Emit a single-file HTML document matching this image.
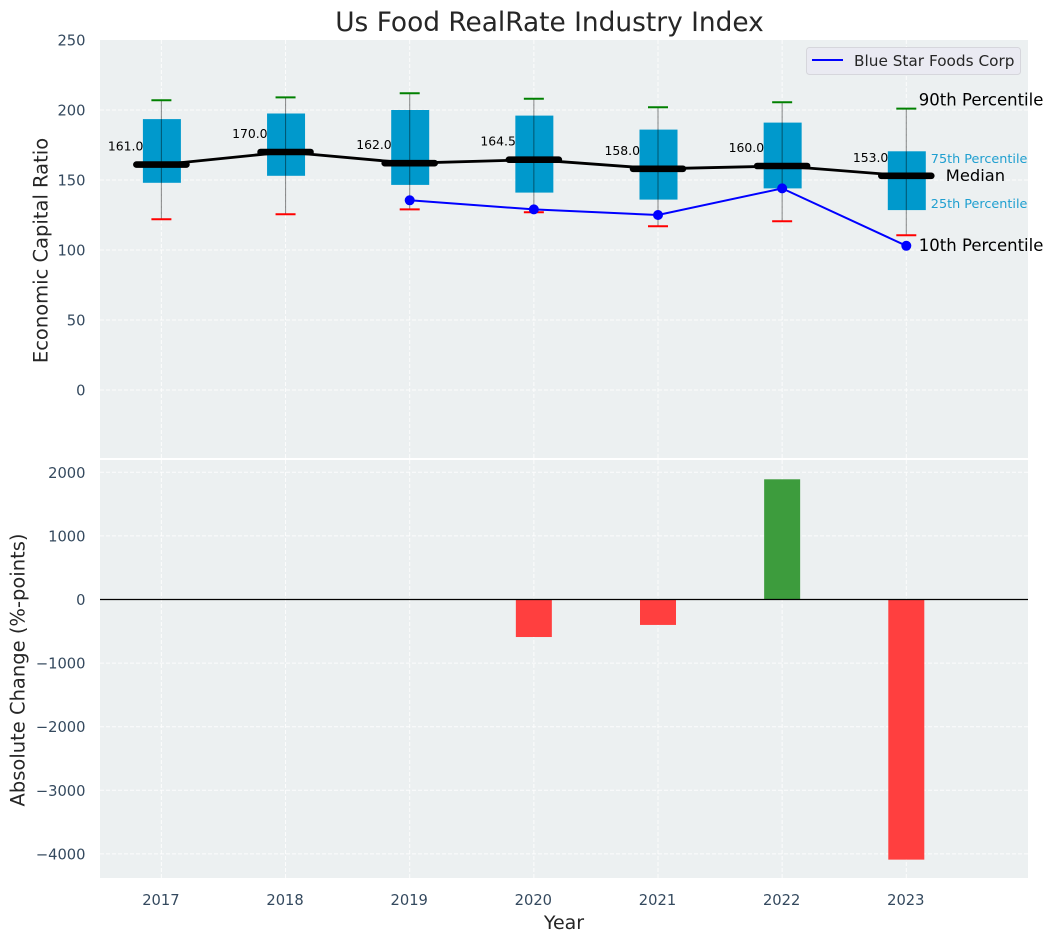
<!DOCTYPE html>
<html>
<head>
<meta charset="utf-8">
<title>Us Food RealRate Industry Index</title>
<style>
html,body{margin:0;padding:0;background:#fff;width:1054px;height:942px;overflow:hidden}
svg{display:block;font-family:"DejaVu Sans","Liberation Sans",sans-serif}
</style>
</head>
<body>
<svg id="chart" xmlns="http://www.w3.org/2000/svg" width="1054" height="942" viewBox="0 0 1054 942">
  <rect x="100" y="40" width="928" height="418" fill="#ecf0f1"/>
  <rect x="100" y="460" width="928" height="418" fill="#ecf0f1"/>
  <g id="grid"></g>
  <g id="bars"></g>
  <g id="boxes"></g>
  <g id="lines"></g>
  <g id="labels"></g>
  <g id="ticks"></g>
  <text x="549.5" y="31" text-anchor="middle" font-size="26.4" fill="#262626">Us Food RealRate Industry Index</text>
  <text transform="translate(47.5,250.5) rotate(-90)" text-anchor="middle" font-size="19.5" fill="#262626">Economic Capital Ratio</text>
  <text transform="translate(24.5,670) rotate(-90)" text-anchor="middle" font-size="19.5" fill="#262626">Absolute Change (%-points)</text>
  <text x="564" y="929" text-anchor="middle" font-size="19" fill="#262626">Year</text>
  <g>
    <rect x="806.5" y="47.5" width="214" height="27" rx="3" fill="#eaeaf2" stroke="#d6d6dc" stroke-width="1"/>
    <line x1="812" y1="60" x2="843" y2="60" stroke="#0000ff" stroke-width="2"/>
    <text x="854" y="66" font-size="15.3" fill="#262626">Blue Star Foods Corp</text>
  </g>
</svg>
<script>
const years = [2017, 2018, 2019, 2020, 2021, 2022, 2023];
const p10 = [122, 125.5, 129, 127, 117, 120.5, 110.5];
const p25 = [148, 153, 146.5, 141, 136, 144, 128.5];
const medians = [161, 170, 162, 164.5, 158, 160, 153];
const medianLabels = ["161.0", "170.0", "162.0", "164.5", "158.0", "160.0", "153.0"];
const p75 = [193.5, 197.5, 200, 196, 186, 191, 170.5];
const p90 = [207, 209, 212, 208, 202, 205.5, 201];
const companyValues = [null, null, 135.5, 129, 125, 144, 103];
const changeValues = [null, null, null, -590, -400, 1890, -4090];
const topTicks = [0, 50, 100, 150, 200, 250];
const bottomTicks = [-4000, -3000, -2000, -1000, 0, 1000, 2000];

const NS = "http://www.w3.org/2000/svg";
const xScale = v => 161.4 + (v - 2017) * 124.15;
const yTop = v => 390 - v * 1.4;
const yBottom = v => 599.5 - v * 0.0636;
const minus = v => String(v).replace("-", "\u2212");

function make(parent, tag, attrs, text) {
  const el = document.createElementNS(NS, tag);
  for (const k in attrs) el.setAttribute(k, attrs[k]);
  if (text !== undefined) el.textContent = text;
  document.getElementById(parent).appendChild(el);
  return el;
}

/* grid */
years.forEach(yr => {
  [[40, 458], [460, 878]].forEach(r => {
    const g = make("grid", "line", {x1: xScale(yr), x2: xScale(yr), y1: r[0], y2: r[1], stroke: "#fff", "stroke-width": 1, "stroke-dasharray": "4 2", opacity: 0.85});
    
    
  });
  const t = make("ticks", "text", {x: xScale(yr) - 0.5, y: 905, "text-anchor": "middle", "font-size": 14.7, fill: "#34495e"}, yr);
  
  
});
topTicks.forEach(v => {
  if (v < 250) {
    const g = make("grid", "line", {x1: 100, x2: 1028, y1: yTop(v), y2: yTop(v), stroke: "#fff", "stroke-width": 1, "stroke-dasharray": "4 2", opacity: 0.85});
    
    
  }
  const t = make("ticks", "text", {x: 85.5, y: yTop(v) + 5.5, "text-anchor": "end", "font-size": 14.7, fill: "#34495e"}, minus(v));
  
  
});
bottomTicks.forEach(v => {
  const g = make("grid", "line", {x1: 100, x2: 1028, y1: yBottom(v), y2: yBottom(v), stroke: "#fff", "stroke-width": 1, "stroke-dasharray": "4 2", opacity: 0.85});
  
  
  const t = make("ticks", "text", {x: 85.5, y: yBottom(v) + 5.5, "text-anchor": "end", "font-size": 14.7, fill: "#34495e"}, minus(v));
  
  
});

/* bars */
years.forEach((yr, i) => {
  const v = changeValues[i];
  if (v === null) return;
  const y0 = yBottom(0), y1 = yBottom(v);
  const b = make("bars", "rect", {x: xScale(yr) - 18, width: 36, y: Math.min(y0, y1), height: Math.abs(y1 - y0), fill: v >= 0 ? "#3d9c3d" : "#ff3f3f"});
  
  
});
const zero = make("bars", "line", {x1: 100, x2: 1028, y1: yBottom(0), y2: yBottom(0), stroke: "#000", "stroke-width": 1.2});



/* boxes and whiskers */
years.forEach((yr, i) => {
  const x = xScale(yr);
  const box = make("boxes", "rect", {x: x - 18.5, width: 38, y: yTop(p75[i]), height: yTop(p25[i]) - yTop(p75[i]), fill: "#0099cc"});
  
  
  const wh = make("boxes", "line", {x1: x, x2: x, y1: yTop(p90[i]), y2: yTop(p10[i]), stroke: "#000", "stroke-width": 1.1, opacity: 0.42});
  
  
  const hi = make("boxes", "line", {x1: x - 10, x2: x + 10, y1: yTop(p90[i]), y2: yTop(p90[i]), stroke: "#008000", "stroke-width": 2});
  
  
  const lo = make("boxes", "line", {x1: x - 10, x2: x + 10, y1: yTop(p10[i]), y2: yTop(p10[i]), stroke: "#ff0000", "stroke-width": 2});
  
  
});

/* median line */
const medPts = years.map((yr, i) => xScale(yr) + "," + yTop(medians[i])).join(" ");
const medLine = make("lines", "polyline", {points: medPts, fill: "none", stroke: "#000", "stroke-width": 2.8});


years.forEach((yr, i) => {
  const x = xScale(yr), y = yTop(medians[i]);
  const m = make("lines", "line", {x1: x - 25, x2: x + 25, y1: y, y2: y, stroke: "#000", "stroke-width": 6.6, "stroke-linecap": "round"});
  
  
});

/* company line */
const compPts = years.map((yr, i) => companyValues[i] === null ? null : xScale(yr) + "," + yTop(companyValues[i])).filter(Boolean).join(" ");
const compLine = make("lines", "polyline", {points: compPts, fill: "none", stroke: "#0000ff", "stroke-width": 2});


years.forEach((yr, i) => {
  if (companyValues[i] === null) return;
  const c = make("lines", "circle", {cx: xScale(yr), cy: yTop(companyValues[i]), r: 5, fill: "#0000ff"});
  
  
});

/* median value labels */
years.forEach((yr, i) => {
  const t = make("labels", "text", {x: xScale(yr) - 18, y: yTop(medians[i]) - 14, "text-anchor": "end", "font-size": 12.4, fill: "#000"}, medianLabels[i]);
  
  
});

/* percentile annotations anchored on last year */
const last = years.length - 1;
const lx = xScale(years[last]);
const a90 = make("labels", "text", {x: lx + 12.5, y: yTop(p90[last]) - 3, "font-size": 16.5, fill: "#000"}, "90th Percentile");


const a75 = make("labels", "text", {x: lx + 24.5, y: yTop(p75[last]) + 11.5, "font-size": 12.8, fill: "#1f9fd0"}, "75th Percentile");


const aMed = make("labels", "text", {x: lx + 39.5, y: yTop(medians[last]) + 5, "font-size": 16.3, fill: "#000"}, "Median");


const a25 = make("labels", "text", {x: lx + 24.5, y: yTop(p25[last]) - 2, "font-size": 12.8, fill: "#1f9fd0"}, "25th Percentile");


const a10 = make("labels", "text", {x: lx + 12.5, y: yTop(p10[last]) + 15.5, "font-size": 16.5, fill: "#000"}, "10th Percentile");


</script>
</body>
</html>
